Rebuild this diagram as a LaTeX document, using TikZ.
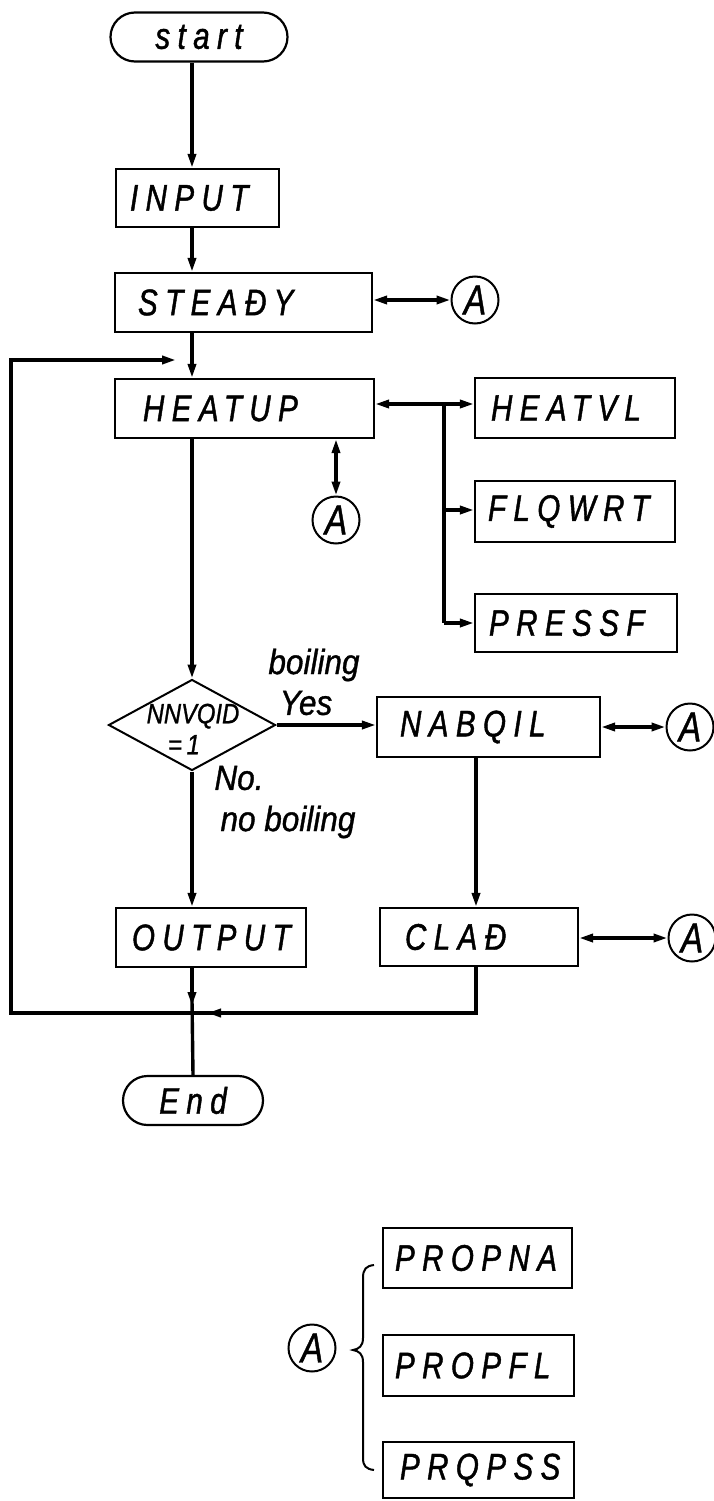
\documentclass[tikz,border=0pt]{standalone}
\usepackage{fontspec}
\newfontfamily\cad[FakeStretch=0.8,LetterSpace=20,FakeBold=1.2]{Liberation Sans}
\newfontfamily\cadA[FakeStretch=0.8,FakeBold=1]{Liberation Sans}
\newfontfamily\hand[FakeStretch=0.9,FakeBold=1]{Liberation Sans}
\newfontfamily\handN[FakeStretch=0.85,FakeBold=1]{Liberation Sans}
\usetikzlibrary{arrows.meta,shapes.geometric,shapes.misc}
\newcommand\bxt[3]{\makebox[#1pt][l]{\hspace*{#2pt}#3}}
\begin{document}
\begin{tikzpicture}[x=1pt,y=-1pt,
  >={Triangle[length=14pt,width=8pt]},
  box/.style={draw, line width=2.2pt, inner sep=0pt, minimum height=59pt,
    font={\cad\itshape\fontsize{37}{39}\selectfont}},
  term/.style={draw, rounded rectangle, line width=2.2pt, inner sep=0pt,
    minimum height=49pt, font={\cad\itshape\fontsize{37}{39}\selectfont}},
  conn/.style={draw, circle, line width=2pt, minimum size=47pt, inner sep=0pt,
    font={\cadA\itshape\fontsize{42}{42}\selectfont}},
  dec/.style={draw, diamond, line width=2pt, inner sep=0pt},
  hw/.style={font={\hand\itshape\fontsize{35}{37}\selectfont}, inner sep=0pt},
  flow/.style={line width=3.4pt, ->},
  both/.style={line width=3.4pt, <->},
  plain/.style={line width=3.4pt},
  loopline/.style={line width=4.2pt}
]
\useasboundingbox (0,0) rectangle (714,1501);
\fill[white] (0,0) rectangle (714,1501);

% main column x
\coordinate (mx) at (192,0);
\coordinate (cx) at (476,0);

\node[term, minimum width=177pt] (start) at (199,37) {start};
\node[box, minimum height=58pt] (input) at (197.5,198) {\bxt{163}{14}{INPUT}};
\node[box] (steady) at (243.5,302.5) {\bxt{257}{23}{STEAĐY}};
\node[conn] (a1) at (475,300) {A};
\node[box] (heatup) at (244.5,408.5) {\bxt{259}{28}{HEATUP}};
\node[box, minimum height=60pt] (heatvl) at (575,408) {\bxt{200}{16}{HEATVL}};
\node[box, minimum height=61pt] (flowrt) at (575,511.5) {\bxt{200}{13}{FLQWRT}};
\node[box, minimum height=58pt] (pressf) at (576,623) {\bxt{202}{14}{PRESSF}};
\node[conn] (a2) at (336,520) {A};

\node[dec, minimum width=167pt, minimum height=91pt] (d) at (192,725) {};
\node[font={\handN\itshape\fontsize{28}{28}\selectfont}, inner sep=0pt, align=center] (dtext) at (193,729) {NNVQID\\[3pt]\hspace*{-18pt}=\,1};
\node[hw] (boil) at (314,665) {boiling};
\node[hw] (yes) at (306,703) {Yes};
\node[hw] (no) at (239,778) {No.};
\node[hw] (noboil) at (288,822) {no boiling};

\node[box, minimum height=60pt] (naboil) at (488.5,727) {\bxt{223}{23}{NABQIL}};
\node[conn] (a3) at (690,727) {A};
\node[box] (output) at (211,937.5) {\bxt{190}{16}{OUTPUT}};
\node[box, minimum height=58pt] (clad) at (479,937) {\bxt{198}{25}{CLAĐ}};
\node[conn] (a4) at (692,938) {A};
\node[term, minimum width=140pt] (end) at (193,1100.5) {End};

% legend
\node[conn] (a5) at (312,1348) {A};
\node[box, minimum height=60pt] (propna) at (477.5,1258) {\bxt{189}{12}{PROPNA}};
\node[box, minimum height=61pt] (propfl) at (478.5,1365.5) {\bxt{191}{12}{PROPFL}};
\node[box, minimum height=56pt] (propss) at (478.5,1470) {\bxt{191}{17}{PRQPSS}};
\draw[line width=2pt] (374,1265) .. controls (366,1266) and (363,1269) .. (363,1278)
  -- (363,1338) .. controls (363,1346) and (359,1349) .. (353,1350)
  .. controls (359,1351) and (363,1354) .. (363,1362)
  -- (363,1458) .. controls (363,1466) and (366,1469) .. (374,1470);

% connectors
\draw[flow] (start.south -| mx) -- (input.north -| mx);
\draw[flow] (input.south -| mx) -- (steady.north -| mx);
\draw[both] (a1.west -| steady.east) -- (a1.west);
\draw[flow] (steady.south -| mx) -- (heatup.north -| mx);

\coordinate (b1) at (444,404);
\coordinate (b2) at (444,510);
\coordinate (b3) at (444,623);
\draw[both] (b1 -| heatup.east) -- (b1 -| heatvl.west);
\draw[plain] (b1) -- (b3);
\draw[flow] (b2) -- (b2 -| flowrt.west);
\draw[flow] (b3) -- (b3 -| pressf.west);
\draw[both] (a2.north |- heatup.south) -- (a2.north);

\draw[flow] (heatup.south -| mx) -- (d.north);
\draw[flow] (d.east) -- (d.east -| naboil.west);
\draw[both] (a3.west -| naboil.east) -- (a3.west);
\draw[flow] (naboil.south -| cx) -- (clad.north -| cx);
\draw[both] (a4.west -| clad.east) -- (a4.west);
\draw[flow] (d.south) -- (output.north -| mx);

% loop back
\coordinate (j) at (192,1013);
\coordinate (c1) at (476,1013);
\coordinate (jr) at (207,1013);
\coordinate (l1) at (11,1013);
\coordinate (l2) at (11,360);
\coordinate (t) at (176,360);
\draw[loopline] (clad.south -| cx) -- (c1) -- (j);
\draw[loopline, ->] (c1) -- (jr);
\draw[loopline, ->, line join=miter] (j) -- (l1) -- (l2) -- (t);
\draw[flow] (output.south -| mx) -- (192,1006);
\draw[plain] (192,1000) -- (end.north);
\end{tikzpicture}
\end{document}
